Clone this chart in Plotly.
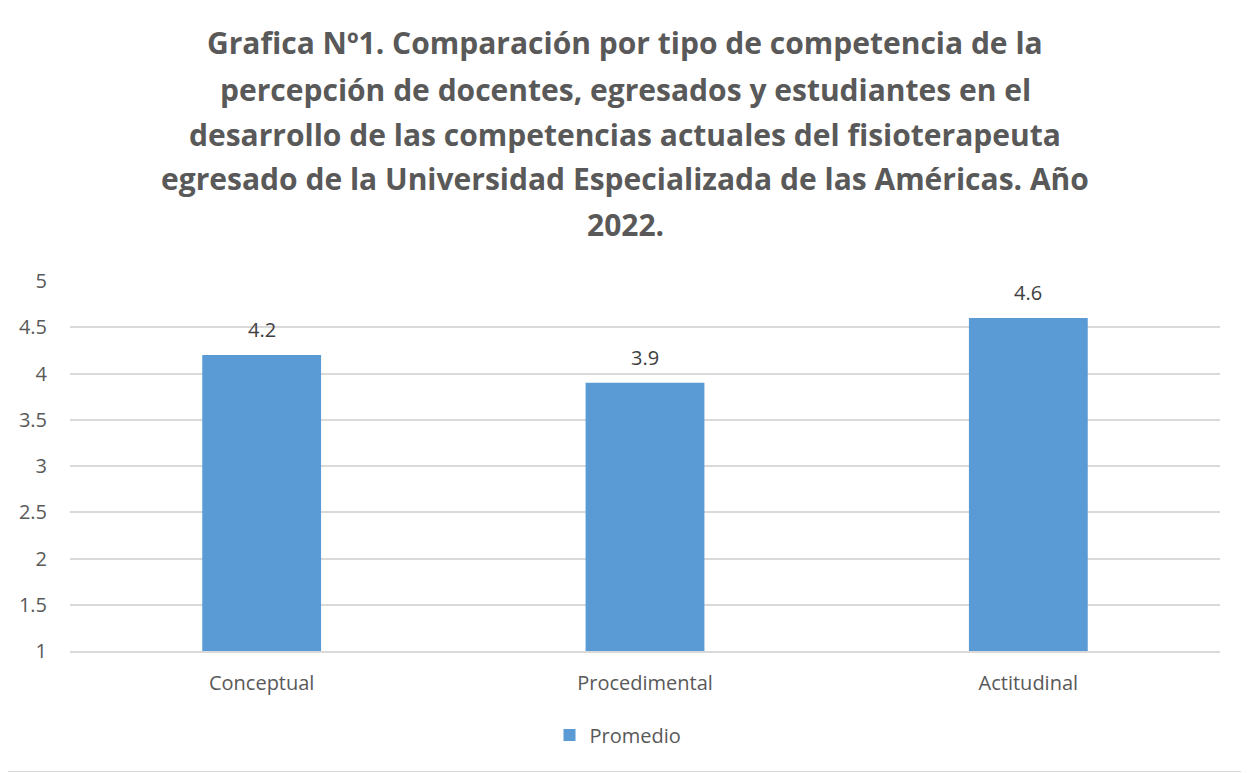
import plotly.graph_objects as go

categories = ["Conceptual", "Procedimental", "Actitudinal"]
promedio = [4.2, 3.9, 4.6]
series_name = "Promedio"
title_lines = [
    "Grafica Nº1. Comparación por tipo de competencia de la",
    "percepción de docentes, egresados y estudiantes en el",
    "desarrollo de las competencias actuales del fisioterapeuta",
    "egresado de la Universidad Especializada de las Américas. Año",
    "2022.",
]
y_ticks = [1, 1.5, 2, 2.5, 3, 3.5, 4, 4.5, 5]
y_ticktext = ["1", "1.5", "2", "2.5", "3", "3.5", "4", "4.5", "5"]

OFF = 8  # page offset
W, H = 1249 - OFF, 773 - OFF
# plot area in reference pixels: x 70..1220, y 281..651
ML, MT = 70 - OFF, 281 - OFF
MR = W - (1220 - OFF)
MB = H - (651 - OFF)
PH = H - MT - MB
PW = W - ML - MR

def py(p):  # p in reference pixels
    return (651 - p) / PH

def px(p):
    return (p - 70) / PW

FONT = "Open Sans"
GREY = "#595959"

fig = go.Figure()
fig.add_trace(go.Bar(
    x=categories, y=promedio, name=series_name,
    marker=dict(color="#5B9BD5", line=dict(width=0)),
    showlegend=True,
))

annotations = []
title_centers = [43, 89, 134, 179, 224]
for line, c in zip(title_lines, title_centers):
    annotations.append(dict(
        text="<b>" + line + "</b>", xref="paper", yref="paper",
        x=px(625), y=py(c), xanchor="center", yanchor="middle",
        showarrow=False, font=dict(family=FONT, size=30, color=GREY),
    ))
for c, v in zip(categories, promedio):
    annotations.append(dict(
        text=f"{v}", x=c, y=v, xref="x", yref="y",
        xanchor="center", yanchor="bottom", yshift=10,
        showarrow=False, font=dict(family=FONT, size=20, color="#404040"),
    ))

fig.update_layout(
    width=W, height=H, autosize=False,
    margin=dict(l=ML, r=MR, t=MT, b=MB, pad=0, autoexpand=False),
    paper_bgcolor="white", plot_bgcolor="white",
    font=dict(family=FONT, size=20, color=GREY),
    bargap=0.69,
    annotations=annotations,
    showlegend=True,
    legend=dict(orientation="h", x=px(618), xanchor="center",
                y=py(735), yanchor="middle", font=dict(family=FONT, size=20, color=GREY),
                itemwidth=30),
    shapes=[dict(type="rect", xref="paper", yref="paper",
                 x0=px(0.5), x1=px(1249.5), y0=py(771.5), y1=py(0.5),
                 line=dict(color="#d9d9d9", width=1), fillcolor="rgba(0,0,0,0)",
                 layer="below")],
    xaxis=dict(showgrid=False, showline=True, linecolor="#d9d9d9", linewidth=1.5,
               ticks="", ticklabelstandoff=13, automargin=False,
               tickfont=dict(family=FONT, size=20, color=GREY)),
    yaxis=dict(range=[1, 5], tickvals=y_ticks, ticktext=y_ticktext,
               showgrid=True, gridcolor="#d9d9d9", gridwidth=1.5, automargin=False,
               zeroline=False, showline=False, ticks="", ticklabelstandoff=22,
               tickfont=dict(family=FONT, size=20, color=GREY)),
)

fig.write_html("out.html")
